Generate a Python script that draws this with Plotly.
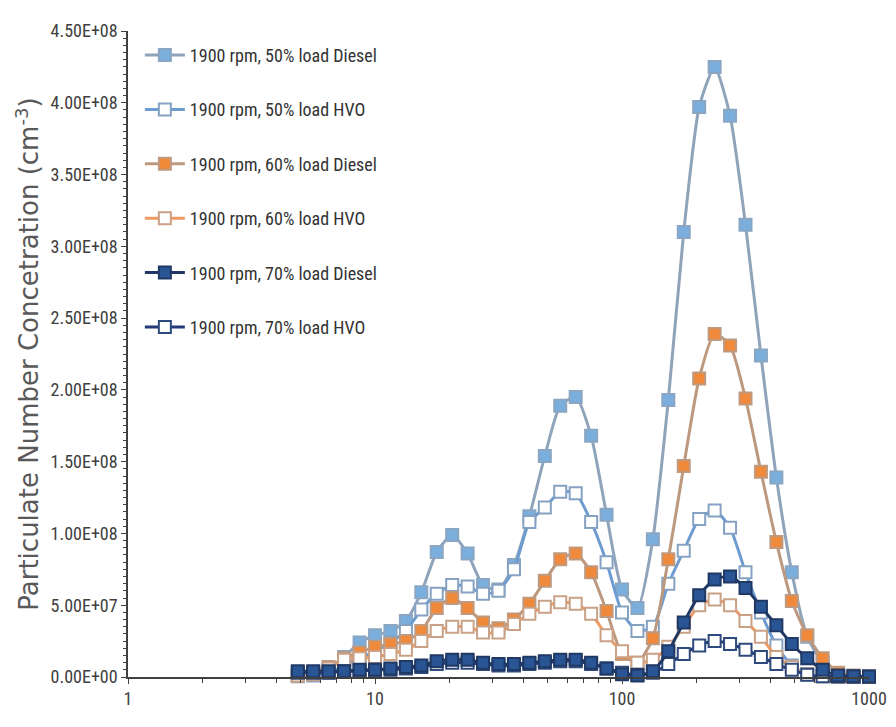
import plotly.graph_objects as go

# Particle size bins (nm)
diameters = [4.87, 5.62, 6.49, 7.50, 8.66, 10.0, 11.55, 13.34, 15.40, 17.78,
             20.54, 23.71, 27.38, 31.62, 36.52, 42.17, 48.70, 56.23, 64.94, 74.99,
             86.60, 100.0, 115.48, 133.35, 153.99, 177.83, 205.35, 237.14, 273.84, 316.23,
             365.17, 421.70, 486.97, 562.34, 649.38, 749.89, 865.96, 1000.0]

# Concentrations (cm^-3)
rpm1900_50_diesel = [1e6, 2e6, 6e6, 14e6, 24e6, 29e6, 32e6, 39e6, 59e6, 87e6,
                     99e6, 86e6, 64e6, 61e6, 78e6, 112e6, 154e6, 189e6, 195e6, 168e6,
                     113e6, 61e6, 48e6, 96e6, 193e6, 310e6, 397e6, 425e6, 391e6, 315e6,
                     224e6, 139e6, 73e6, 28e6, 10e6, 2e6, 0.5e6, 0.2e6]
rpm1900_50_hvo = [0.5e6, 1e6, 3e6, 8e6, 13e6, 18e6, 24e6, 32e6, 47e6, 58e6,
                  64e6, 63e6, 58e6, 60e6, 75e6, 108e6, 118e6, 129e6, 128e6, 108e6,
                  80e6, 45e6, 32e6, 35e6, 65e6, 88e6, 110e6, 116e6, 104e6, 73e6,
                  45e6, 22e6, 8e6, 2e6, 0.5e6, 0.2e6, 0.1e6, 0.1e6]
rpm1900_60_diesel = [1e6, 3e6, 7e6, 13e6, 17e6, 21e6, 23e6, 25e6, 32e6, 48e6,
                     55e6, 48e6, 38e6, 34e6, 40e6, 51e6, 67e6, 82e6, 86e6, 73e6,
                     46e6, 16e6, 10e6, 27e6, 82e6, 147e6, 208e6, 239e6, 231e6, 194e6,
                     143e6, 94e6, 53e6, 29e6, 13e6, 3e6, 1e6, 0.3e6]
rpm1900_60_hvo = [1e6, 2e6, 6e6, 12e6, 13e6, 14e6, 16e6, 19e6, 25e6, 32e6,
                  35e6, 35e6, 31e6, 31e6, 37e6, 44e6, 49e6, 52e6, 51e6, 44e6,
                  29e6, 18e6, 10e6, 12e6, 21e6, 35e6, 50e6, 54e6, 50e6, 39e6,
                  28e6, 14e6, 7e6, 2e6, 0.5e6, 0.2e6, 0.1e6, 0.1e6]
rpm1900_70_diesel = [4e6, 4e6, 4e6, 4e6, 5e6, 5e6, 6e6, 7e6, 8e6, 11e6,
                     12e6, 12e6, 10e6, 9e6, 9e6, 10e6, 11e6, 12e6, 12e6, 10e6,
                     6e6, 2e6, 1e6, 4e6, 18e6, 38e6, 57e6, 68e6, 70e6, 62e6,
                     49e6, 36e6, 23e6, 13e6, 5e6, 1e6, 0.5e6, 0.3e6]
rpm1900_70_hvo = [3e6, 3e6, 3e6, 4e6, 4e6, 5e6, 5e6, 6e6, 7e6, 9e6,
                  10e6, 10e6, 9e6, 8e6, 8e6, 9e6, 10e6, 11e6, 11e6, 9e6,
                  6e6, 3e6, 1.5e6, 3e6, 9e6, 16e6, 22e6, 25e6, 23e6, 19e6,
                  14e6, 9e6, 5e6, 1.5e6, 0.5e6, 0.3e6, 0.2e6, 0.1e6]

series_names = ["1900 rpm, 50% load Diesel", "1900 rpm, 50% load HVO",
                "1900 rpm, 60% load Diesel", "1900 rpm, 60% load HVO",
                "1900 rpm, 70% load Diesel", "1900 rpm, 70% load HVO"]
series_values = [rpm1900_50_diesel, rpm1900_50_hvo, rpm1900_60_diesel,
                 rpm1900_60_hvo, rpm1900_70_diesel, rpm1900_70_hvo]

y_tick_vals = [0, 5e7, 1e8, 1.5e8, 2e8, 2.5e8, 3e8, 3.5e8, 4e8, 4.5e8]
y_tick_labels = ["0.00E+00", "5.00E+07", "1.00E+08", "1.50E+08", "2.00E+08",
                 "2.50E+08", "3.00E+08", "3.50E+08", "4.00E+08", "4.50E+08"]
x_tick_vals = [1, 10, 100, 1000]
x_tick_labels = ["1", "10", "100", "1000"]

# style: (line colour, marker fill, marker border)
styles = [
    ("#8FA4BA", "#79AEDD", "#8AA6C2"),
    ("#6E9BD0", "#FFFFFF", "#86A2C2"),
    ("#BC987E", "#F0893A", "#BE9A80"),
    ("#EE9A62", "#FFFFFF", "#C9A186"),
    ("#1F3864", "#2A5595", "#1F3864"),
    ("#22397A", "#FFFFFF", "#2E4A7D"),
]

NARROW = "Liberation Sans Narrow, Roboto Condensed, Liberation Sans, sans-serif"

# draw order: 70% Diesel last so its filled markers sit on top at the baseline
draw_order = [0, 1, 2, 3, 5, 4]

fig = go.Figure()
for i in draw_order:
    name, vals = series_names[i], series_values[i]
    lc, fc, bc = styles[i]
    fig.add_trace(go.Scatter(
        x=diameters, y=vals, name=name, mode="lines+markers",
        legendgroup=f"g{i}", legendrank=i + 1,
        line=dict(color=lc, width=3, shape="spline", smoothing=0.6),
        marker=dict(symbol="square", size=12, color=fc,
                    line=dict(color=bc, width=2)),
        cliponaxis=False,
    ))

fig.update_layout(
    width=896, height=727,
    margin=dict(l=120, r=35, t=13, b=58),
    plot_bgcolor="white", paper_bgcolor="white",
    legend=dict(x=0.016, y=0.991, xanchor="left", yanchor="top",
                font=dict(family=NARROW, size=18, color="#333333"),
                bgcolor="rgba(255,255,255,0)", tracegroupgap=28,
                itemwidth=40, traceorder="grouped"),
    showlegend=True,
)
fig.update_xaxes(
    type="log", range=[0, 3],
    tickmode="array", tickvals=x_tick_vals, ticktext=x_tick_labels,
    showgrid=False, zeroline=False,
    showline=True, linecolor="#404040", linewidth=1.5,
    ticks="outside", ticklen=5, tickcolor="#404040",
    tickfont=dict(family=NARROW, size=18, color="#404040"),
    minor=dict(ticks="outside", ticklen=4, tickcolor="#404040",
               tickvals=[2, 3, 4, 5, 6, 7, 8, 9, 20, 30, 40, 50, 60, 70, 80, 90,
                         200, 300, 400, 500, 600, 700, 800, 900]),
)
fig.update_yaxes(
    range=[0, 4.5e8],
    tickmode="array", tickvals=y_tick_vals, ticktext=y_tick_labels,
    showgrid=False, zeroline=False,
    showline=True, linecolor="#404040", linewidth=1.5,
    ticks="outside", ticklen=5, tickcolor="#404040",
    tickfont=dict(family=NARROW, size=18, color="#404040"),
    minor=dict(ticks="outside", ticklen=3, tickcolor="#404040", dtick=5e6, tick0=0),
    title=dict(text="Particulate Number Concetration (cm<sup>-3</sup>)",
               font=dict(family="DejaVu Sans, sans-serif", size=26, color="#595959"),
               standoff=4),
)

fig.write_html("out.html")
